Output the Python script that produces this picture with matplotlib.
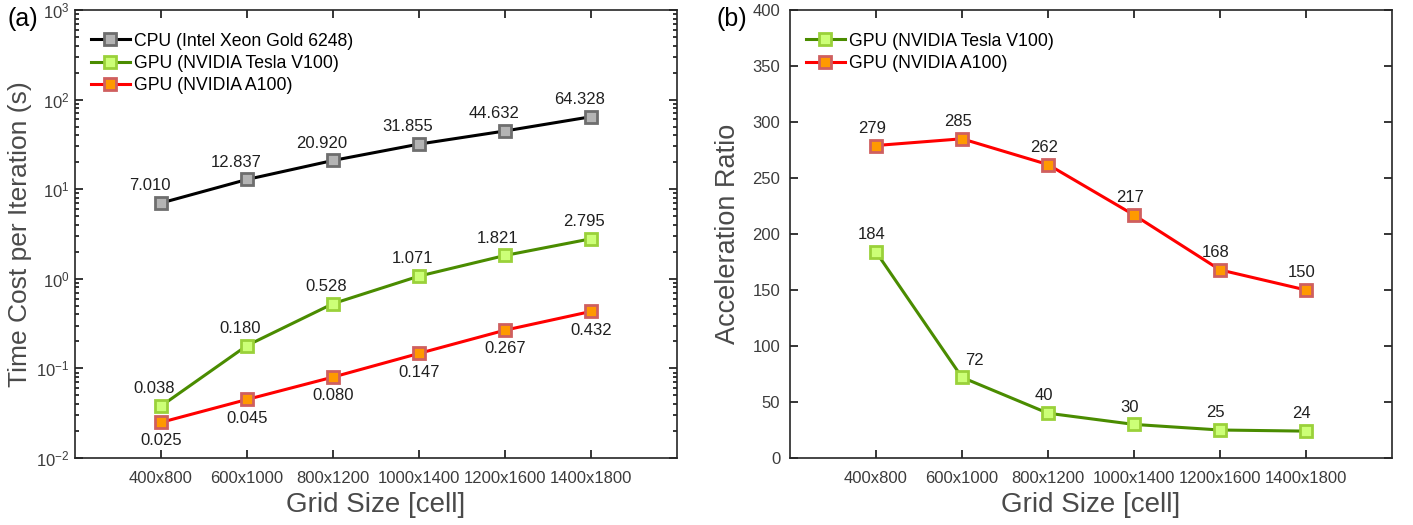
import matplotlib
matplotlib.use('Agg')
import matplotlib.pyplot as plt
import matplotlib.ticker as mtick

plt.rcParams['font.family'] = ['Liberation Sans', 'DejaVu Sans']

grids = ['400x800', '600x1000', '800x1200', '1000x1400', '1200x1600', '1400x1800']
xpos = [1, 2, 3, 4, 5, 6]

# time cost per iteration (s)
t_cpu = [7.010, 12.837, 20.920, 31.855, 44.632, 64.328]
t_v100 = [0.038, 0.180, 0.528, 1.071, 1.821, 2.795]
t_a100 = [0.025, 0.045, 0.080, 0.147, 0.267, 0.432]

# acceleration ratio vs CPU
r_v100 = [184, 72, 40, 30, 25, 24]
r_a100 = [279, 285, 262, 217, 168, 150]

CPU = dict(color='black', marker='s', mfc='#b4b4b4', mec='#6e6e6e')
V100 = dict(color='#4a8c00', marker='s', mfc='#ccff77', mec='#9ad13a')
A100 = dict(color='#ff0000', marker='s', mfc='#ff9900', mec='#cf5f5f')

TXT = '#202020'
TICK = '#3c3c3c'
LAB = '#4a4a4a'


def style(ax, ypad):
    ax.set_xlim(0, 7)
    ax.set_xticks(xpos)
    ax.set_xticklabels(grids)
    ax.tick_params(which='both', direction='in', top=True, right=True,
                   labelsize=12, labelcolor=TICK, width=1.1)
    ax.tick_params(which='major', length=6)
    ax.tick_params(which='minor', length=3)
    ax.tick_params(axis='x', pad=9)
    ax.tick_params(axis='y', pad=ypad)
    for s in ax.spines.values():
        s.set_linewidth(1.2)
        s.set_color('#262626')
    ax.set_xlabel('Grid Size [cell]', fontsize=20, color=LAB, labelpad=5)


fig = plt.figure(figsize=(14.13, 5.25), dpi=100)
ax1 = fig.add_axes([0.0531, 0.1276, 0.4260, 0.8534])
ax2 = fig.add_axes([0.5591, 0.1276, 0.4260, 0.8534])

kw = dict(lw=2.2, ms=8, mew=2)
ax1.plot(xpos, t_cpu, label='CPU (Intel Xeon Gold 6248)', **CPU, **kw)
ax1.plot(xpos, t_v100, label='GPU (NVIDIA Tesla V100)', **V100, **kw)
ax1.plot(xpos, t_a100, label='GPU (NVIDIA A100)', **A100, **kw)
ax1.set_yscale('log')
ax1.set_ylim(1e-2, 1e3)
ax1.yaxis.set_major_locator(mtick.LogLocator(base=10, numticks=10))
ax1.yaxis.set_minor_locator(mtick.LogLocator(base=10, subs=range(2, 10), numticks=10))
ax1.yaxis.set_minor_formatter(mtick.NullFormatter())
style(ax1, 4)
ax1.set_ylabel('Time Cost per Iteration (s)', fontsize=19, color=LAB, labelpad=3)

for x, v in zip(xpos, t_cpu):
    ax1.annotate('%.3f' % v, (x, v), xytext=(-8, 7), textcoords='offset points',
                 ha='center', va='bottom', fontsize=12, color=TXT)
for x, v in zip(xpos, t_v100):
    ax1.annotate('%.3f' % v, (x, v), xytext=(-5, 7), textcoords='offset points',
                 ha='center', va='bottom', fontsize=12, color=TXT)
for x, v in zip(xpos, t_a100):
    ax1.annotate('%.3f' % v, (x, v), xytext=(0, -8), textcoords='offset points',
                 ha='center', va='top', fontsize=12, color=TXT)

ax1.legend(loc='upper left', frameon=False, fontsize=12.7, handlelength=2.2,
           handletextpad=0.25, borderaxespad=0.5, labelspacing=0.3,
           bbox_to_anchor=(0.0, 0.985))

ax2.plot(xpos, r_v100, label='GPU (NVIDIA Tesla V100)', **V100, **kw)
ax2.plot(xpos, r_a100, label='GPU (NVIDIA A100)', **A100, **kw)
ax2.set_ylim(0, 400)
ax2.set_yticks(range(0, 401, 50))
style(ax2, 7)
ax2.set_ylabel('Acceleration Ratio', fontsize=19.5, color=LAB, labelpad=8)

offs_v = [-3, 9, -3, -3, -3, -3]
for x, v, dx in zip(xpos, r_v100, offs_v):
    ax2.annotate('%d' % v, (x, v), xytext=(dx, 7), textcoords='offset points',
                 ha='center', va='bottom', fontsize=12, color=TXT)
for x, v in zip(xpos, r_a100):
    ax2.annotate('%d' % v, (x, v), xytext=(-3, 7), textcoords='offset points',
                 ha='center', va='bottom', fontsize=12, color=TXT)

ax2.legend(loc='upper left', frameon=False, fontsize=12.7, handlelength=2.2,
           handletextpad=0.25, borderaxespad=0.5, labelspacing=0.3,
           bbox_to_anchor=(0.0, 0.985))

fig.text(0.005, 0.963, '(a)', fontsize=18, color='black', va='center')
fig.text(0.507, 0.963, '(b)', fontsize=18, color='black', va='center')

fig.savefig('out.png', dpi=100)
